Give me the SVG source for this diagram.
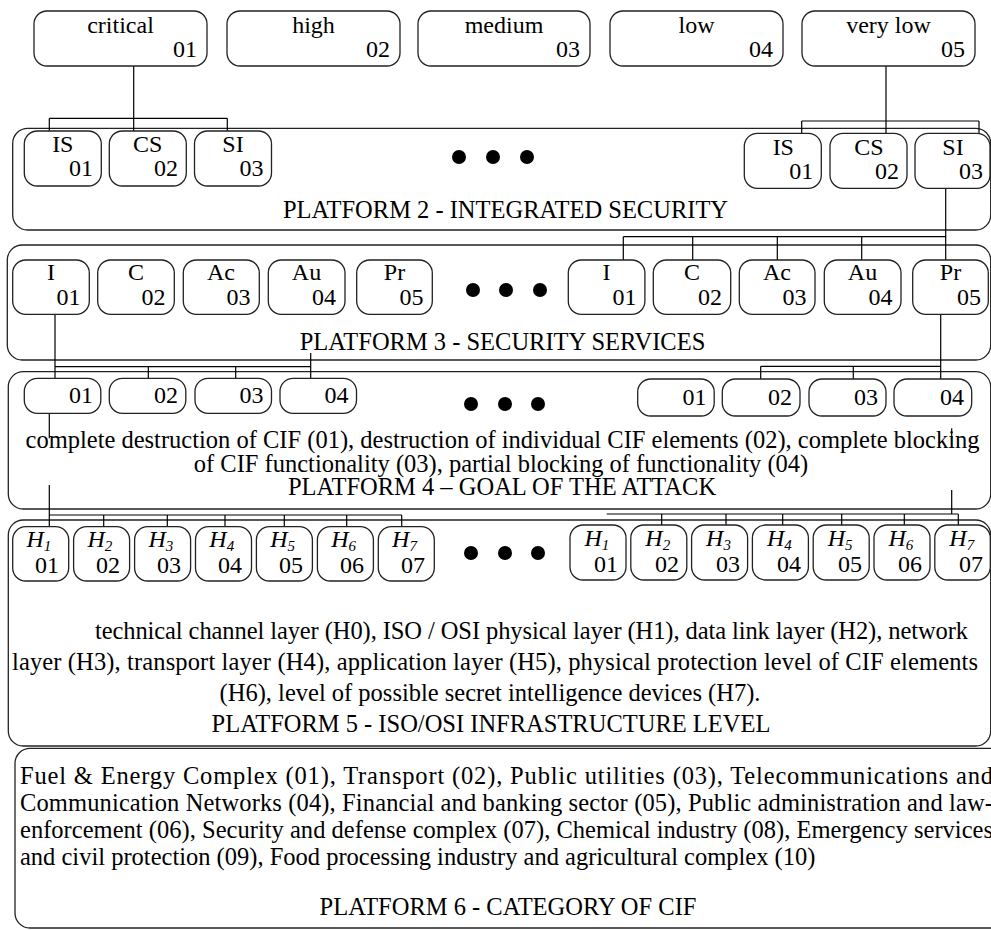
<svg xmlns="http://www.w3.org/2000/svg" width="991" height="930" viewBox="0 0 991 930">
<style>
.box{fill:#fff;stroke:#222;stroke-width:1.3}
.plat{fill:none;stroke:#222;stroke-width:1.3}
.t{font-family:"Liberation Serif","Times New Roman",serif;font-size:24px;fill:#000}
.b{font-size:24.5px}
.c{text-anchor:middle}
.r{text-anchor:end}
.hi{font-style:italic}
.sub{font-size:15px;font-style:italic}
.ln{stroke:#000;stroke-width:1.2;fill:none}
.dot{fill:#000}
</style>
<rect width="991" height="930" fill="#fff"/>

<!-- Platform containers -->
<g id="platform2"><rect class="plat" x="12.7" y="128.3" width="978" height="101.7" rx="15"/><text class="t b c" x="505.5" y="218">PLATFORM 2 - INTEGRATED SECURITY</text>
<circle class="dot" cx="459" cy="157" r="7"/><circle class="dot" cx="493" cy="157" r="7"/><circle class="dot" cx="527" cy="157" r="7"/></g>
<g id="platform3"><rect class="plat" x="7.3" y="245" width="983.4" height="115" rx="15"/><text class="t b c" x="502.5" y="350">PLATFORM 3 - SECURITY SERVICES</text>
<circle class="dot" cx="473" cy="290" r="7"/><circle class="dot" cx="506" cy="290" r="7"/><circle class="dot" cx="540" cy="290" r="7"/></g>
<g id="platform4"><rect class="plat" x="8.3" y="371.7" width="982.4" height="137.3" rx="15"/>
<text class="t b c" x="502.5" y="448">complete destruction of CIF (01), destruction of individual CIF elements (02), complete blocking</text>
<text class="t b c" x="501" y="472">of CIF functionality (03), partial blocking of functionality (04)</text>
<text class="t b c" x="502" y="495">PLATFORM 4 – GOAL OF THE ATTACK</text>
<circle class="dot" cx="471" cy="404" r="7"/><circle class="dot" cx="505" cy="404" r="7"/><circle class="dot" cx="538" cy="404" r="7"/></g>
<g id="platform5"><rect class="plat" x="8.3" y="520" width="982.4" height="226" rx="15"/>
<text class="t b" x="95" y="639" textLength="873" lengthAdjust="spacing">technical channel layer (H0), ISO / OSI physical layer (H1), data link layer (H2), network</text>
<text class="t b" x="12" y="670" textLength="966" lengthAdjust="spacing">layer (H3), transport layer (H4), application layer (H5), physical protection level of CIF elements</text>
<text class="t b c" x="490" y="701">(H6), level of possible secret intelligence devices (H7).</text>
<text class="t b c" x="491" y="732">PLATFORM 5 - ISO/OSI INFRASTRUCTURE LEVEL</text>
<circle class="dot" cx="471" cy="553" r="7"/><circle class="dot" cx="505" cy="553" r="7"/><circle class="dot" cx="538" cy="553" r="7"/></g>
<g id="platform6"><rect class="plat" x="15" y="748.3" width="1000" height="179.7" rx="15"/>
<text class="t b" x="20" y="784" textLength="973" lengthAdjust="spacing">Fuel &amp; Energy Complex (01), Transport (02), Public utilities (03), Telecommunications and</text>
<text class="t b" x="20" y="811" textLength="973" lengthAdjust="spacing">Communication Networks (04), Financial and banking sector (05), Public administration and law-</text>
<text class="t b" x="20" y="838" textLength="973" lengthAdjust="spacing">enforcement (06), Security and defense complex (07), Chemical industry (08), Emergency services</text>
<text class="t b" x="20" y="865">and civil protection (09), Food processing industry and agricultural complex (10)</text>
<text class="t b c" x="508" y="915">PLATFORM 6 - CATEGORY OF CIF</text></g>

<!-- Connectors -->
<g id="connectors" class="ln">
<path d="M133.7 66V118.3M49.3 118.3H227.3M49.3 118.3V131M227.3 118.3V131M133.7 118.3V131"/>
<path d="M886 66V121M801.7 121H979M801.7 121V133.3M886 121V133.3M979 121V133.3"/>
<path d="M945.7 188.3V260M623.3 236.7H945.7M623.3 236.7V260M692.7 236.7V260M777.3 236.7V260M861.7 236.7V260"/>
<path d="M55 314.3V378.3M55 366.7H310.7M148.3 366.7V378.3M235.7 366.7V378.3M310.7 353V378.3"/>
<path d="M940.7 314.3V379M760.7 366.3H940.7M760.7 366.3V379M853.3 366.3V379"/>
<path d="M49.3 413.3V438.3M951.7 428.3V438.3"/>
<path d="M49.3 485V526.7M49.3 515H401.7M103.7 515V526.7M167.3 515V526.7M225 515V526.7M284.3 515V526.7M346.7 515V526.7M401.7 515V526.7"/>
<path d="M951.7 490V514M606.7 514H958.3M661.7 514V525M726 514V525M782.7 514V525M841.7 514V525M904.3 514V525M958.3 514V525"/>
</g>

<!-- Platform 1 level boxes -->
<g id="lvl-critical"><rect class="box" x="34" y="11" width="173" height="55" rx="13"/><text class="t c" x="120.5" y="33">critical</text><text class="t r" x="197" y="57">01</text></g>
<g id="lvl-high"><rect class="box" x="227" y="11" width="173" height="55" rx="13"/><text class="t c" x="313.5" y="33">high</text><text class="t r" x="390" y="57">02</text></g>
<g id="lvl-medium"><rect class="box" x="418" y="11" width="172" height="55" rx="13"/><text class="t c" x="504" y="33">medium</text><text class="t r" x="580" y="57">03</text></g>
<g id="lvl-low"><rect class="box" x="610" y="11" width="173" height="55" rx="13"/><text class="t c" x="696.5" y="33">low</text><text class="t r" x="773" y="57">04</text></g>
<g id="lvl-verylow"><rect class="box" x="802" y="11" width="173" height="55" rx="13"/><text class="t c" x="888.5" y="33">very low</text><text class="t r" x="965" y="57">05</text></g>

<!-- Platform 2 boxes -->
<g id="p2-l-is"><rect class="box" x="24.3" y="131" width="77" height="55" rx="13"/><text class="t c" x="62.8" y="152">IS</text><text class="t r" x="93" y="176">01</text></g>
<g id="p2-l-cs"><rect class="box" x="109.3" y="131" width="77" height="55" rx="13"/><text class="t c" x="147.8" y="152">CS</text><text class="t r" x="178" y="176">02</text></g>
<g id="p2-l-si"><rect class="box" x="194.5" y="131" width="77" height="55" rx="13"/><text class="t c" x="233" y="152">SI</text><text class="t r" x="263.5" y="176">03</text></g>
<g id="p2-r-is"><rect class="box" x="744.3" y="133.3" width="77" height="55" rx="13"/><text class="t c" x="783.3" y="154.5">IS</text><text class="t r" x="813.3" y="178.5">01</text></g>
<g id="p2-r-cs"><rect class="box" x="830" y="133.3" width="77" height="55" rx="13"/><text class="t c" x="869" y="154.5">CS</text><text class="t r" x="899" y="178.5">02</text></g>
<g id="p2-r-si"><rect class="box" x="915" y="133.3" width="75" height="55" rx="13"/><text class="t c" x="953" y="154.5">SI</text><text class="t r" x="983" y="178.5">03</text></g>

<!-- Platform 3 boxes -->
<g id="p3-l-i"><rect class="box" x="12.7" y="260" width="76.6" height="54.3" rx="13"/><text class="t c" x="51" y="280">I</text><text class="t r" x="80.5" y="305">01</text></g>
<g id="p3-l-c"><rect class="box" x="97.7" y="260" width="76.6" height="54.3" rx="13"/><text class="t c" x="136" y="280">C</text><text class="t r" x="165.5" y="305">02</text></g>
<g id="p3-l-ac"><rect class="box" x="183.3" y="260" width="76" height="54.3" rx="13"/><text class="t c" x="221" y="280">Ac</text><text class="t r" x="250.5" y="305">03</text></g>
<g id="p3-l-au"><rect class="box" x="268.3" y="260" width="76.7" height="54.3" rx="13"/><text class="t c" x="306.5" y="280">Au</text><text class="t r" x="336" y="305">04</text></g>
<g id="p3-l-pr"><rect class="box" x="356.7" y="260" width="75.6" height="54.3" rx="13"/><text class="t c" x="394.5" y="280">Pr</text><text class="t r" x="423.5" y="305">05</text></g>
<g id="p3-r-i"><rect class="box" x="568.3" y="260" width="76.6" height="54.3" rx="13"/><text class="t c" x="606.6" y="280">I</text><text class="t r" x="636.5" y="305">01</text></g>
<g id="p3-r-c"><rect class="box" x="653.3" y="260" width="77.4" height="54.3" rx="13"/><text class="t c" x="692" y="280">C</text><text class="t r" x="722" y="305">02</text></g>
<g id="p3-r-ac"><rect class="box" x="739.3" y="260" width="75.7" height="54.3" rx="13"/><text class="t c" x="777" y="280">Ac</text><text class="t r" x="806.5" y="305">03</text></g>
<g id="p3-r-au"><rect class="box" x="824.3" y="260" width="76.7" height="54.3" rx="13"/><text class="t c" x="862.5" y="280">Au</text><text class="t r" x="892.5" y="305">04</text></g>
<g id="p3-r-pr"><rect class="box" x="912.7" y="260" width="75.6" height="54.3" rx="13"/><text class="t c" x="950.5" y="280">Pr</text><text class="t r" x="981" y="305">05</text></g>

<!-- Platform 4 boxes -->
<g id="p4-l-01"><rect class="box" x="24.3" y="378.3" width="76.5" height="35" rx="13"/><text class="t r" x="93" y="403">01</text></g>
<g id="p4-l-02"><rect class="box" x="109.3" y="378.3" width="76.5" height="35" rx="13"/><text class="t r" x="178" y="403">02</text></g>
<g id="p4-l-03"><rect class="box" x="195" y="378.3" width="76.5" height="35" rx="13"/><text class="t r" x="263.5" y="403">03</text></g>
<g id="p4-l-04"><rect class="box" x="280" y="378.3" width="76.5" height="35" rx="13"/><text class="t r" x="348.5" y="403">04</text></g>
<g id="p4-r-01"><rect class="box" x="637.7" y="379" width="76.5" height="37" rx="13"/><text class="t r" x="706.5" y="405">01</text></g>
<g id="p4-r-02"><rect class="box" x="722.3" y="379" width="77.7" height="37" rx="13"/><text class="t r" x="792" y="405">02</text></g>
<g id="p4-r-03"><rect class="box" x="809" y="379" width="77" height="37" rx="13"/><text class="t r" x="878" y="405">03</text></g>
<g id="p4-r-04"><rect class="box" x="894" y="379" width="77.7" height="37" rx="13"/><text class="t r" x="964" y="405">04</text></g>

<!-- Platform 5 H boxes, left -->
<g id="p5-l-h1"><rect class="box" x="12.7" y="526.7" width="56" height="54.3" rx="13"/><text class="t hi" x="26.5" y="547">H<tspan class="sub" dy="4">1</tspan></text><text class="t r" x="59" y="573">01</text></g>
<g id="p5-l-h2"><rect class="box" x="73.6" y="526.7" width="56" height="54.3" rx="13"/><text class="t hi" x="87.4" y="547">H<tspan class="sub" dy="4">2</tspan></text><text class="t r" x="120" y="573">02</text></g>
<g id="p5-l-h3"><rect class="box" x="134.6" y="526.7" width="56" height="54.3" rx="13"/><text class="t hi" x="148.4" y="547">H<tspan class="sub" dy="4">3</tspan></text><text class="t r" x="181" y="573">03</text></g>
<g id="p5-l-h4"><rect class="box" x="195.5" y="526.7" width="56" height="54.3" rx="13"/><text class="t hi" x="209.3" y="547">H<tspan class="sub" dy="4">4</tspan></text><text class="t r" x="242" y="573">04</text></g>
<g id="p5-l-h5"><rect class="box" x="256.4" y="526.7" width="56" height="54.3" rx="13"/><text class="t hi" x="270.2" y="547">H<tspan class="sub" dy="4">5</tspan></text><text class="t r" x="303" y="573">05</text></g>
<g id="p5-l-h6"><rect class="box" x="317.4" y="526.7" width="56" height="54.3" rx="13"/><text class="t hi" x="331.2" y="547">H<tspan class="sub" dy="4">6</tspan></text><text class="t r" x="364" y="573">06</text></g>
<g id="p5-l-h7"><rect class="box" x="378.3" y="526.7" width="56" height="54.3" rx="13"/><text class="t hi" x="392.1" y="547">H<tspan class="sub" dy="4">7</tspan></text><text class="t r" x="425" y="573">07</text></g>

<!-- Platform 5 H boxes, right -->
<g id="p5-r-h1"><rect class="box" x="570" y="525" width="56" height="55" rx="13"/><text class="t hi" x="584.5" y="546">H<tspan class="sub" dy="4">1</tspan></text><text class="t r" x="618" y="572">01</text></g>
<g id="p5-r-h2"><rect class="box" x="630.8" y="525" width="56" height="55" rx="13"/><text class="t hi" x="645.3" y="546">H<tspan class="sub" dy="4">2</tspan></text><text class="t r" x="679" y="572">02</text></g>
<g id="p5-r-h3"><rect class="box" x="691.6" y="525" width="56" height="55" rx="13"/><text class="t hi" x="706.1" y="546">H<tspan class="sub" dy="4">3</tspan></text><text class="t r" x="740" y="572">03</text></g>
<g id="p5-r-h4"><rect class="box" x="752.4" y="525" width="56" height="55" rx="13"/><text class="t hi" x="766.9" y="546">H<tspan class="sub" dy="4">4</tspan></text><text class="t r" x="801" y="572">04</text></g>
<g id="p5-r-h5"><rect class="box" x="813.2" y="525" width="56" height="55" rx="13"/><text class="t hi" x="827.7" y="546">H<tspan class="sub" dy="4">5</tspan></text><text class="t r" x="862" y="572">05</text></g>
<g id="p5-r-h6"><rect class="box" x="874" y="525" width="56" height="55" rx="13"/><text class="t hi" x="888.5" y="546">H<tspan class="sub" dy="4">6</tspan></text><text class="t r" x="922" y="572">06</text></g>
<g id="p5-r-h7"><rect class="box" x="934.8" y="525" width="55.5" height="55" rx="13"/><text class="t hi" x="949.3" y="546">H<tspan class="sub" dy="4">7</tspan></text><text class="t r" x="983" y="572">07</text></g>
</svg>
